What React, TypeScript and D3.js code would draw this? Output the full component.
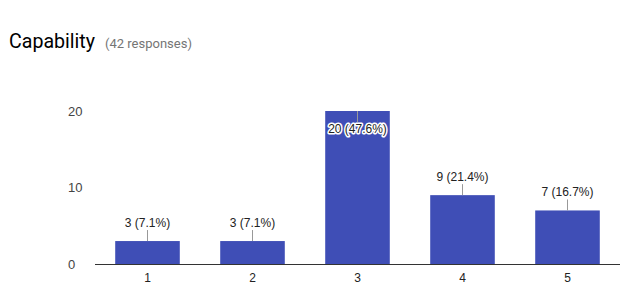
import React from "react";
import * as d3 from "d3";

const categories = ["1", "2", "3", "4", "5"];
const values = [3, 3, 20, 9, 7];
const labels = ["3 (7.1%)", "3 (7.1%)", "20 (47.6%)", "9 (21.4%)", "7 (16.7%)"];
const yTicks = [0, 10, 20];
const title = "Capability";
const subtitle = "(42 responses)";

export default function App() {
  const W = 641, H = 292;
  const x = d3.scaleBand<string>().domain(categories).range([95, 620]).paddingInner(0.385).paddingOuter(0.1925);
  const y = d3.scaleLinear().domain([0, 20]).range([264, 111]);
  const font = "'Liberation Sans', Arial, sans-serif";
  return (
    <svg width={W} height={H} style={{ position: "absolute", left: 0, top: 0, background: "#fff" }}>
      <text x={9} y={48} fontFamily="Roboto, sans-serif" fontSize={19.6} fill="#000">{title}</text>
      <text x={105} y={48} fontFamily="Roboto, sans-serif" fontSize={13} fill="#757575">{subtitle}</text>
      {yTicks.map((t) => (
        <text key={t} x={68} y={y(t) + 4.5} fontFamily={font} fontSize={13} fill="#444">{t}</text>
      ))}
      {categories.map((c, i) => {
        const bx = x(c)!;
        const bw = x.bandwidth();
        const cx = bx + bw / 2;
        const top = y(values[i]);
        const inside = top - 14 < 100;
        return (
          <g key={c}>
            <rect x={bx} y={top} width={bw} height={264 - top} fill="#3f4eb6" />
            {inside ? (
              <>
                <line x1={cx} x2={cx} y1={top} y2={top + 11} stroke="#999" strokeWidth={1} />
                <text x={cx} y={top + 22} textAnchor="middle" fontFamily={font} fontSize={12} fill="#222" stroke="#fff" strokeWidth={3} paintOrder="stroke" strokeLinejoin="round">{labels[i]}</text>
              </>
            ) : (
              <>
                <line x1={cx} x2={cx} y1={top - 11} y2={top} stroke="#999" strokeWidth={1} />
                <text x={cx} y={top - 14} textAnchor="middle" fontFamily={font} fontSize={12} fill="#222">{labels[i]}</text>
              </>
            )}
            <text x={cx} y={282} textAnchor="middle" fontFamily={font} fontSize={12} fill="#222">{c}</text>
          </g>
        );
      })}
      <line x1={95} x2={620} y1={264.5} y2={264.5} stroke="#333" strokeWidth={1} />
    </svg>
  );
}
